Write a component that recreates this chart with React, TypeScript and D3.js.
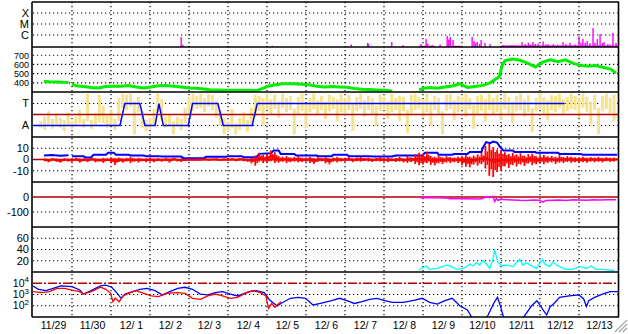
import React, { useEffect, useRef } from "react";
import * as d3 from "d3";

// time is in days counted from 11/29 00:00
const dayLabels = [
  "11/29", "11/30", "12/ 1", "12/ 2", "12/ 3", "12/ 4", "12/ 5", "12/ 6",
  "12/ 7", "12/ 8", "12/ 9", "12/10", "12/11", "12/12", "12/13",
];

// X-ray flux spikes (W/m2)
const xrayBars: [number, number][] = [
  [3.8, 6.6e-7], [3.84, 1.3e-7], [6.14, 1.05e-7], [8.16, 1.4e-7], [8.58, 1.9e-7],
  [8.6, 1.6e-7], [9.2, 2.3e-7], [9.49, 1.2e-7], [9.95, 1.5e-7], [10.08, 4.3e-7],
  [10.12, 1.6e-7], [10.24, 1.2e-7], [10.44, 1.4e-7], [10.62, 8e-7], [10.66, 4e-7],
  [10.7, 6.6e-7], [10.77, 3.5e-7], [11.26, 6.6e-7], [11.31, 2.8e-7], [11.35, 1.8e-7],
  [11.39, 2.3e-7], [11.45, 1.5e-7], [11.49, 3.5e-7], [11.59, 1.9e-7], [11.72, 1.5e-7],
  [12.05, 1.2e-7], [12.28, 1.2e-7], [12.54, 2.3e-7], [12.62, 1.5e-7], [12.7, 1.9e-7],
  [12.76, 1.4e-7], [12.82, 2.3e-7], [12.88, 1.5e-7], [12.95, 1.7e-7], [13.08, 2.6e-7],
  [13.15, 1.4e-7], [13.21, 1.5e-7], [13.34, 1.5e-7], [13.45, 1.3e-7], [13.59, 2.3e-7],
  [13.66, 1.5e-7], [13.77, 1.9e-7], [13.9, 1.4e-7], [14.0, 8e-7], [14.05, 2e-7],
  [14.1, 4.3e-7], [14.16, 2e-7], [14.21, 2.8e-7], [14.28, 1.8e-7], [14.36, 4.3e-6],
  [14.41, 2e-7], [14.47, 4.3e-7], [14.54, 1.2e-6], [14.6, 1.8e-7], [14.64, 2.3e-7],
  [14.74, 1.5e-7], [14.8, 1.3e-7], [14.87, 1.5e-6], [14.95, 1.9e-7],
];
// low background level segments [start, end, flux]
const xrayFloor: [number, number, number][] = [
  [9.9, 10.3, 1.05e-7], [10.6, 11.0, 1.05e-7], [12.0, 15.0, 1.12e-7],
];

// solar wind speed (km/s)
const speedData: [number, number | null][] = [
  [0.28, 415], [0.42, 412], [0.62, 410], [0.76, 406], [0.91, 404], [0.95, null],
  [1.0, 385], [1.1, 367], [1.29, 360], [1.49, 348], [1.68, 344], [1.87, 359],
  [2.07, 363], [2.26, 362], [2.45, 370], [2.64, 355], [2.84, 344], [3.03, 355],
  [3.22, 367], [3.42, 370], [3.61, 363], [3.8, 355], [4.0, 344], [4.19, 340],
  [4.38, 333], [4.58, 322], [4.77, 322], [4.96, 318], [5.15, 318], [5.35, 318],
  [5.54, 318], [5.73, 315], [5.93, 344], [6.02, 363], [6.22, 378], [6.41, 389],
  [6.7, 389], [6.89, 385], [7.08, 378], [7.28, 363], [7.47, 355], [7.66, 359],
  [7.86, 355], [8.05, 352], [8.24, 337], [8.44, 330], [8.63, 326], [8.82, 322],
  [9.02, 318], [9.21, 311], [9.5, null],
  [9.9, 325], [10.03, 340], [10.17, 350], [10.37, 340], [10.56, 355], [10.75, 365],
  [10.95, 390], [11.04, 368], [11.14, 350], [11.33, 360], [11.53, 372], [11.72, 400],
  [11.86, 440], [11.96, 470], [12.03, 590], [12.1, 640], [12.3, 660], [12.49, 645],
  [12.68, 615], [12.88, 572], [13.07, 625], [13.26, 650], [13.46, 630], [13.65, 650],
  [13.84, 615], [14.03, 590], [14.23, 580], [14.42, 588], [14.61, 570], [14.81, 550],
  [14.95, 505],
];

// IMF sector: +1 toward, -1 away
const sectorData: [number, number][] = [
  [0, -1], [2.23, -1], [2.355, 1], [2.74, 1], [2.87, -1], [3.13, -1], [3.23, 1],
  [3.34, -1], [3.98, -1], [4.09, 1], [4.74, 1], [4.88, -1], [5.62, -1], [5.75, 1],
  [13.63, 1],
];
// raw angle scatter, min / max per 0.1 day bin starting at 0.2
const phiStart = 0.2;
const phiLo = [
  -1.2, -1.4, -1.0, -1.3, -0.9, -1.2, -1.5, -1.0, -1.3, -1.0, -0.8, -1.2, -0.6, -1.3,
  -1.0, -0.7, -0.8, -1.2, -1.0, -1.4, -0.6, 0.6, 0.4, 0.7, -1.8, 0.2, -1.2, -1.5,
  -1.3, -0.9, 0.2, -0.5, -1.2, -1.0, -1.8, -1.1, -1.4, -0.8, 0.0, 0.3, 0.5, 0.6,
  0.2, 0.7, 0.4, -0.3, -1.0, -1.8, -1.5, -1.2, -1.8, -1.4, -1.1, -1.6, -0.8, -0.2,
  0.3, -1.0, 0.4, 0.0, 0.5, -0.3, 0.6, 0.2, 0.4, -1.8, 0.0, 0.3, -1.2, 0.2,
  0.5, 0.0, 0.4, -0.4, 0.3, 0.5, -0.6, 0.2, 0.1, 0.4, -1.5, 0.3, 0.5, -0.2,
  0.4, 0.0, -1.0, 0.3, 0.5, -0.4, 0.2, 0.4, -0.6, 0.3, -1.7, 0.1, 0.4, 0.5,
  -0.3, 0.2, -1.0, 0.4, 0.0, -1.8, 0.3, 0.5, -0.5, 0.2, 0.4, -0.2, 0.5, -1.3,
  0.1, 0.3, -0.6, 0.4, 0.0, 0.2, -0.4, 0.5, 0.1, -0.8, 0.3, 0.4, -0.2, 0.2,
  -1.6, 0.3, 0.5, 0.0, -0.5, 0.4, 0.2, 0.6, 0.1, 0.3, 0.5, 0.4, -0.3, 0.6,
  0.2, -0.9, 0.4, -1.8, 0.3, 0.5, 0.1, -0.6,
];
const phiHi = [
  -0.6, -0.2, 0.3, -0.4, 0.1, -0.3, -0.5, 0.2, -0.6, -0.2, 0.4, -0.4, 1.9, -0.5,
  0.1, 1.8, 0.8, -0.1, 0.4, -0.4, 1.5, 1.9, 1.8, 1.9, 1.2, 1.6, 0.3, -0.5,
  -0.3, 0.5, 1.9, 1.4, -0.2, 0.0, -0.6, -0.2, -0.4, 0.6, 1.6, 1.9, 1.7, 1.9,
  1.5, 1.9, 1.8, 1.3, 0.4, -0.3, -0.6, 0.5, -0.8, -0.3, 0.2, -0.5, 0.6, 1.8,
  1.7, 1.5, 1.9, 1.4, 1.8, 1.2, 1.9, 1.5, 1.7, 0.5, 1.6, 1.9, 1.0, 1.5,
  1.9, 1.3, 1.7, 1.2, 1.8, 1.6, 1.4, 1.9, 1.5, 1.8, 1.0, 1.6, 1.9, 1.3,
  1.7, 1.5, 0.8, 1.8, 1.6, 1.2, 1.9, 1.5, 1.7, 1.6, 0.4, 1.8, 1.9, 1.6,
  1.4, 1.9, 1.2, 1.7, 1.5, 0.3, 1.8, 1.9, 1.3, 1.7, 1.6, 1.9, 1.5, 0.9,
  1.7, 1.8, 1.4, 1.9, 1.5, 1.8, 1.3, 1.9, 1.6, 1.2, 1.7, 1.9, 1.4, 1.8,
  0.6, 1.5, 1.9, 1.6, 1.3, 1.8, 1.7, 1.9, 1.4, 1.6, 1.9, 1.7, 1.5, 1.9,
  1.6, 1.2, 1.8, 0.6, 1.7, 1.9, 1.5, 1.8,
];

// IMF Bt (nT)
const btData: [number, number | null][] = [
  [0.28, 3.6], [0.5, 4.0], [0.7, 3.4], [0.91, 3.8], [0.95, null], [1.0, 3.0], [1.29, 3.0],
  [1.35, 1.8], [1.49, 1.8], [1.55, 4.2], [1.87, 4.2], [1.93, 6.0], [2.07, 6.0],
  [2.13, 4.2], [2.45, 4.2], [2.5, 3.6], [2.84, 3.6], [2.9, 3.0], [3.22, 3.0],
  [3.3, 2.7], [3.8, 2.7], [3.86, 1.2], [4.38, 1.2], [4.44, 2.4], [4.96, 2.4],
  [5.0, 3.0], [5.35, 3.0], [5.4, 2.1], [5.73, 2.1], [5.8, 5.0], [6.1, 5.5],
  [6.17, 8.0], [6.3, 8.0], [6.35, 5.0], [6.7, 5.0], [6.75, 3.6], [7.28, 3.6],
  [7.3, 3.0], [7.66, 3.0], [7.7, 4.2], [8.05, 4.2], [8.1, 3.0], [8.63, 3.0],
  [8.7, 2.7], [9.21, 2.7], [9.3, 3.6], [9.98, 3.6], [10.05, 6.0], [10.37, 6.0],
  [10.4, 4.2], [10.75, 4.2], [10.8, 5.0], [11.14, 5.0], [11.2, 6.6], [11.5, 6.6],
  [11.53, 10], [11.62, 15.5], [11.72, 14.5], [11.8, 16], [11.9, 15], [11.98, 11],
  [12.06, 8], [12.3, 8], [12.35, 6.6], [12.88, 6.6], [12.9, 6.0], [13.46, 6.0],
  [13.5, 5.0], [14.03, 5.0], [14.1, 4.2], [14.98, 4.2],
];
// IMF Bz (nT), min / max per 0.1 day bin starting at 0.3
const bzStart = 0.3;
const bzHi = [
  1.0, 0.5, 1.2, 0.8, 0.3, 1.0, 0.6,
  0.5, 1.5, 0.8, 1.2, 0.4, 1.8, 1.0, 0.6, 1.4, 0.9,
  2.0, 1.2, 1.8, 0.8, 1.5, 2.2, 1.0, 1.6, 0.8, 1.2,
  1.5, 0.8, 1.2, 0.6, 1.4, 0.9, 1.6, 0.7, 1.0, 0.5,
  0.6, 0.3, 0.8, 0.4, 0.9, 0.5, 0.7, 1.0, 0.4, 0.8,
  0.8, 1.2, 0.6, 1.5, 1.0, 0.7, 1.4, 3.5, 6.0, 4.0,
  5.0, 8.0, 6.5, 3.0, 2.5, 3.2, 1.8, 2.4, 2.8, 1.5,
  1.8, 2.5, 1.2, 2.0, 1.5, 2.2, 1.0, 1.8, 2.4, 1.2,
  1.5, 2.0, 1.0, 1.8, 2.2, 1.2, 1.6, 0.8, 1.4, 2.0,
  1.2, 1.8, 0.8, 1.5, 2.2, 1.0, 3.0, 2.0, 4.5, 6.0,
  5.0, 7.0, 3.0, 2.5, 3.5, 2.0, 3.0, 2.2, 1.8, 2.5,
  3.0, 4.0, 2.5, 3.5, 4.5, 6.0, 12.0, 14.0, 11.0, 9.0,
  8.0, 6.5, 5.0, 6.0, 4.5, 5.5, 3.5, 4.8, 5.2, 3.0,
  3.5, 4.0, 2.8, 3.2, 2.5, 3.8, 2.2, 3.0, 2.6, 2.0,
  2.0, 2.5, 1.5, 2.2, 1.8, 2.4, 1.4, 2.0, 1.6, 1.8,
];
const bzLo = [
  -1.5, -2.5, -1.0, -2.0, -2.8, -1.2, -1.8,
  -2.0, -1.2, -2.8, -1.5, -2.2, -1.0, -2.5, -1.8, -3.0, -1.4,
  -3.0, -4.8, -2.2, -2.8, -1.8, -3.2, -2.0, -2.6, -1.5, -2.4,
  -1.8, -2.5, -1.2, -2.0, -1.5, -2.8, -1.0, -1.8, -2.2, -1.4,
  -1.0, -0.6, -1.2, -0.8, -0.5, -1.1, -0.7, -0.9, -1.3, -0.6,
  -1.2, -0.8, -1.6, -1.0, -1.5, -2.0, -3.5, -5.5, -2.0, -3.0,
  -2.5, -1.5, -3.0, -2.8, -2.0, -3.2, -2.4, -1.8, -2.6, -2.2,
  -2.0, -3.0, -4.0, -2.2, -1.6, -3.5, -4.2, -2.0, -2.6, -1.8,
  -2.0, -1.4, -2.4, -1.6, -2.0, -1.2, -1.8, -2.2, -1.5, -1.8,
  -2.0, -2.5, -1.5, -2.2, -1.8, -2.6, -3.0, -2.2, -4.0, -5.0,
  -4.5, -3.0, -4.8, -5.2, -3.5, -4.0, -2.8, -3.2, -2.5, -3.0,
  -5.0, -6.5, -7.0, -4.5, -5.5, -4.0, -8.0, -14.5, -15.5, -11.0,
  -10.0, -6.0, -7.5, -5.0, -6.2, -4.5, -5.8, -3.6, -5.0, -4.2,
  -3.5, -4.2, -3.0, -2.6, -4.0, -2.8, -3.2, -2.2, -3.0, -2.5,
  -2.8, -2.2, -3.0, -1.8, -2.5, -2.0, -2.6, -1.5, -2.2, -1.8,
];

// Dst (nT)
const dstData: [number, number][] = [
  [9.92, -5], [10.09, -4], [10.6, -6], [10.68, -12], [11.11, -12], [11.45, -14],
  [11.54, -8], [11.62, 3], [11.71, -5], [11.79, 5], [11.84, -30], [11.88, -10],
  [11.92, -22], [12.01, -15], [12.14, -18], [12.31, -20], [12.48, -22], [12.65, -23],
  [12.82, -20], [12.99, -22], [13.07, -35], [13.16, -24], [13.33, -22], [13.5, -20],
  [13.67, -24], [13.84, -18], [14.01, -20], [14.19, -22], [14.36, -19], [14.53, -20],
  [14.7, -18], [14.95, -19],
];

// proton density / pressure (cyan)
const cyanData: [number, number][] = [
  [9.9, 2.4], [9.96, 6.5], [10.09, 10.7], [10.17, 4.7], [10.34, 6.5], [10.51, 9.5],
  [10.6, 12.4], [10.68, 10.7], [10.77, 8.3], [10.86, 4.7], [11.03, 6.5], [11.11, 9.5],
  [11.2, 14.2], [11.28, 10.7], [11.37, 16.6], [11.45, 12.4], [11.54, 20], [11.62, 15],
  [11.71, 6.5], [11.79, 21.3], [11.84, 40], [11.88, 27], [11.92, 18], [12.01, 10.7],
  [12.14, 12.4], [12.31, 9.5], [12.39, 16.6], [12.48, 22.5], [12.56, 12.4], [12.65, 16.6],
  [12.82, 9.5], [12.91, 6.5], [13.06, 22.5], [13.12, 14.2], [13.25, 9.5], [13.33, 18],
  [13.42, 12.4], [13.5, 9.5], [13.67, 4.7], [13.84, 4.7], [14.01, 9.5], [14.19, 6.5],
  [14.31, 10.7], [14.44, 4.7], [14.61, 4.7], [14.78, 3.5], [14.91, 2.4],
];

// electron flux, two satellites
const electronBlue: [number, number][] = [
  [0.0, 5750], [0.14, 2900], [0.33, 2200], [0.52, 3550], [0.71, 5750], [1.0, 5000],
  [1.2, 2500], [1.29, 1100], [1.49, 2200], [1.73, 5750], [1.87, 6900], [2.02, 4400],
  [2.16, 1260], [2.26, 460], [2.36, 1100], [2.55, 1800], [2.74, 2900], [2.93, 3550],
  [3.13, 2200], [3.32, 910], [3.51, 1800], [3.71, 3550], [3.9, 4400], [4.09, 2900],
  [4.29, 1100], [4.48, 910], [4.67, 1450], [4.86, 1800], [5.06, 1100], [5.25, 740],
  [5.54, 1800], [5.73, 2200], [5.93, 1450], [6.07, 320], [6.26, 95], [6.39, 186],
  [6.6, 460], [6.8, 560], [6.99, 460], [7.18, 117], [7.37, 160], [7.66, 280],
  [7.86, 460], [8.05, 280], [8.24, 160], [8.44, 230], [8.63, 370], [8.82, 460],
  [9.02, 280], [9.21, 200], [9.5, 200], [9.79, 320], [9.98, 460], [10.17, 200],
  [10.37, 140], [10.56, 280], [10.75, 460], [10.95, 95], [11.14, 42], [11.24, 11],
  [11.38, 5], [11.57, 5], [11.67, 15], [11.81, 160], [11.91, 560], [11.99, 83],
  [12.06, 11], [12.2, 5], [12.49, 5], [12.59, 11], [12.78, 95], [12.92, 280],
  [13.07, 48], [13.17, 15], [13.26, 83], [13.36, 160], [13.5, 560], [13.75, 740],
  [14.0, 910], [14.12, 400], [14.19, 85], [14.25, 280], [14.4, 560], [14.6, 1100],
  [14.8, 1800], [15.0, 1800],
];
const electronRed: [number, number][] = [
  [0.0, 1800], [0.23, 1450], [0.42, 1800], [0.62, 3550], [0.81, 3550], [1.0, 2500],
  [1.2, 1800], [1.29, 1100], [1.49, 1800], [1.73, 4400], [1.87, 2900], [1.99, 1260],
  [2.05, 230], [2.11, 460], [2.21, 230], [2.31, 740], [2.45, 1260], [2.64, 2200],
  [2.84, 1260], [3.03, 740], [3.22, 650], [3.42, 1260], [3.71, 1450], [3.9, 1260],
  [4.09, 460], [4.29, 370], [4.48, 740], [4.67, 1100], [4.86, 740], [5.06, 460],
  [5.25, 560], [5.44, 1260], [5.64, 2200], [5.83, 1450], [5.97, 740], [6.04, 59],
  [6.12, 160], [6.2, 72], [6.26, 117], [6.36, 230],
];

const W = 628;
const H = 334;
const edges = [2, 47, 92, 137, 182, 227, 272, 317];
const X0 = 33;
const X1 = 618;
const FONT = "'Liberation Sans', Arial, sans-serif";
const DARKRED = "#b00000";

export default function App() {
  const ref = useRef<SVGSVGElement | null>(null);

  useEffect(() => {
    document.body.style.margin = "0";
    const svg = d3.select(ref.current);
    svg.selectAll("*").remove();

    const x = d3.scaleLinear().domain([0, 15]).range([X0, X1]);

    const yX = d3.scaleLog().domain([1e-7, 1e-3]).range([46, 2]);
    const ySpeed = d3.scaleLinear().domain([300, 790]).range([92, 47]);
    const ySector = d3.scaleLinear().domain([-2.05, 2.05]).range([137, 92]);
    const yB = d3.scaleLinear().domain([-20, 20]).range([182, 137]);
    const yDst = d3.scaleLinear().domain([-200, 100]).range([227, 182]);
    const yCyan = d3.scaleLinear().domain([0, 80]).range([272, 227]);
    const yE = d3.scaleLog().domain([10, 1e5]).range([317, 272]);

    const defs = svg.append("defs");
    for (let i = 0; i < 7; i++) {
      defs
        .append("clipPath")
        .attr("id", `clip${i}`)
        .append("rect")
        .attr("x", X0)
        .attr("y", edges[i])
        .attr("width", X1 - X0)
        .attr("height", edges[i + 1] - edges[i]);
    }

    svg.append("rect").attr("width", W).attr("height", H).attr("fill", "#fff");

    const grid = svg.append("g");
    const dotted = (y: number) =>
      grid
        .append("line")
        .attr("x1", X0)
        .attr("x2", X1)
        .attr("y1", y)
        .attr("y2", y)
        .attr("stroke", "#000")
        .attr("stroke-width", 1.2)
        .attr("stroke-dasharray", "1.2,2.8");

    // vertical day lines
    d3.range(1, 15).forEach((d) => {
      grid
        .append("line")
        .attr("x1", x(d))
        .attr("x2", x(d))
        .attr("y1", 2)
        .attr("y2", 317)
        .attr("stroke", "#000")
        .attr("stroke-width", 1.2)
        .attr("stroke-dasharray", "1.2,2.8");
    });

    [1e-4, 1e-5, 1e-6].forEach((v) => dotted(yX(v)));
    [400, 500, 600, 700].forEach((v) => dotted(ySpeed(v)));
    [1, -1].forEach((v) => dotted(ySector(v)));
    [10, -10].forEach((v) => dotted(yB(v)));
    dotted(yDst(-100));
    [20, 40, 60].forEach((v) => dotted(yCyan(v)));
    [1e3, 1e2].forEach((v) => dotted(yE(v)));

    const refLine = (y: number, dash?: string) => {
      const l = svg
        .append("line")
        .attr("x1", X0)
        .attr("x2", X1)
        .attr("y1", y)
        .attr("y2", y)
        .attr("stroke", DARKRED)
        .attr("stroke-width", 1.5);
      if (dash) l.attr("stroke-dasharray", dash);
    };

    const panel = (i: number) => svg.append("g").attr("clip-path", `url(#clip${i})`);

    // 1: X-ray
    const g1 = panel(0);
    g1.selectAll("rect.bar")
      .data(xrayBars)
      .enter()
      .append("rect")
      .attr("x", (d) => x(d[0]) - 0.7)
      .attr("width", 1.4)
      .attr("y", (d) => yX(d[1]))
      .attr("height", (d) => 47 - yX(d[1]))
      .attr("fill", "#ff00ff");
    g1.selectAll("rect.floor")
      .data(xrayFloor)
      .enter()
      .append("rect")
      .attr("x", (d) => x(d[0]))
      .attr("width", (d) => x(d[1]) - x(d[0]))
      .attr("y", (d) => yX(d[2]))
      .attr("height", (d) => 47 - yX(d[2]))
      .attr("fill", "#ff00ff");

    // 2: speed
    const lineOf = (ys: d3.ScaleContinuousNumeric<number, number>) =>
      d3
        .line<[number, number | null]>()
        .defined((d) => d[1] !== null)
        .x((d) => x(d[0]))
        .y((d) => ys(d[1] as number));

    panel(1)
      .append("path")
      .attr("d", lineOf(ySpeed)(speedData))
      .attr("fill", "none")
      .attr("stroke", "#00ee00")
      .attr("stroke-width", 3);

    // 3: sector
    const g3 = panel(2);
    g3.selectAll("rect.phi")
      .data(phiLo.map((lo, i) => ({ t: phiStart + i * 0.1, lo, hi: phiHi[i] })))
      .enter()
      .append("rect")
      .attr("x", (d) => x(d.t) - 1.5)
      .attr("width", 3)
      .attr("y", (d) => ySector(d.hi))
      .attr("height", (d) => ySector(d.lo) - ySector(d.hi))
      .attr("fill", "#f5e38f");
    refLine(ySector(0));
    panel(2)
      .append("path")
      .attr("d", lineOf(ySector)(sectorData))
      .attr("fill", "none")
      .attr("stroke", "#0000ff")
      .attr("stroke-width", 1.5);

    // 4: Bt / Bz
    refLine(yB(0));
    const g4 = panel(3);
    g4.append("path")
      .attr("d", lineOf(yB)(btData))
      .attr("fill", "none")
      .attr("stroke", "#0000ff")
      .attr("stroke-width", 2);
    const bzBins = bzLo.map((lo, i) => ({ t: bzStart + i * 0.1, lo, hi: bzHi[i] }));
    g4.append("path")
      .attr(
        "d",
        d3
          .line<{ t: number; lo: number; hi: number }>()
          .x((d) => x(d.t))
          .y((d) => yB((d.lo + d.hi) / 2))(bzBins),
      )
      .attr("fill", "none")
      .attr("stroke", "#ff0000")
      .attr("stroke-width", 2);
    g4.selectAll("line.bz")
      .data(bzBins)
      .enter()
      .append("line")
      .attr("x1", (d) => x(d.t))
      .attr("x2", (d) => x(d.t))
      .attr("y1", (d) => yB(d.lo))
      .attr("y2", (d) => yB(d.hi))
      .attr("stroke", "#ff0000")
      .attr("stroke-width", 1.8);
    g4.selectAll("line.bz2")
      .data(bzBins)
      .enter()
      .append("line")
      .attr("x1", (d) => x(d.t + 0.05))
      .attr("x2", (d) => x(d.t + 0.05))
      .attr("y1", (d) => yB(d.lo * 0.6))
      .attr("y2", (d) => yB(d.hi * 0.6))
      .attr("stroke", "#ff0000")
      .attr("stroke-width", 1.6);

    // 5: Dst
    refLine(yDst(0));
    panel(4)
      .append("path")
      .attr("d", lineOf(yDst)(dstData))
      .attr("fill", "none")
      .attr("stroke", "#ff00ff")
      .attr("stroke-width", 1.5);

    // 6: cyan
    panel(5)
      .append("path")
      .attr("d", lineOf(yCyan)(cyanData))
      .attr("fill", "none")
      .attr("stroke", "#00ffff")
      .attr("stroke-width", 1.3);

    // 7: electrons
    refLine(yE(1e4), "9,2,2,2");
    const g7 = panel(6);
    g7.append("path")
      .attr("d", lineOf(yE)(electronBlue))
      .attr("fill", "none")
      .attr("stroke", "#0000ff")
      .attr("stroke-width", 1.3);
    g7.append("path")
      .attr("d", lineOf(yE)(electronRed))
      .attr("fill", "none")
      .attr("stroke", "#ff0000")
      .attr("stroke-width", 1.3);

    // frame
    edges.forEach((y) => {
      svg
        .append("line")
        .attr("x1", 32)
        .attr("x2", 619)
        .attr("y1", y)
        .attr("y2", y)
        .attr("stroke", "#000")
        .attr("stroke-width", 1.6);
    });
    [32, 618.5].forEach((xx) => {
      svg
        .append("line")
        .attr("x1", xx)
        .attr("x2", xx)
        .attr("y1", 2)
        .attr("y2", 317)
        .attr("stroke", "#000")
        .attr("stroke-width", 1.6);
    });

    // y labels
    const label = (y: number, txt: string, size = 11) =>
      svg
        .append("text")
        .attr("x", 29)
        .attr("y", y)
        .attr("dy", "0.36em")
        .attr("text-anchor", "end")
        .style("font-family", FONT)
        .style("font-size", `${size}px`)
        .attr("fill", "#000")
        .text(txt);

    label(yX(1e-4), "X");
    label(yX(1e-5), "M");
    label(yX(1e-6), "C");
    [700, 600, 500, 400].forEach((v) => label(ySpeed(v), String(v), 9));
    label(ySector(1), "T");
    label(ySector(-1), "A");
    [10, 0, -10].forEach((v) => label(yB(v), String(v)));
    [0, -100].forEach((v) => label(yDst(v), String(v)));
    [60, 40, 20].forEach((v) => label(yCyan(v), String(v)));
    [4, 3, 2].forEach((p) => {
      const t = svg
        .append("text")
        .attr("x", 29)
        .attr("y", yE(Math.pow(10, p)) + 3.5)
        .attr("text-anchor", "end")
        .style("font-family", FONT)
        .style("font-size", "10.5px")
        .attr("fill", "#000");
      t.append("tspan").text("10");
      t.append("tspan")
        .attr("dy", -4.5)
        .style("font-size", "8px")
        .text(String(p));
    });

    // x labels
    dayLabels.forEach((lab, i) => {
      svg
        .append("text")
        .attr("x", x(i + 0.5) + 1)
        .attr("y", 329)
        .attr("text-anchor", "middle")
        .attr("xml:space", "preserve")
        .style("font-family", FONT)
        .style("font-size", "10.5px")
        .style("white-space", "pre")
        .attr("fill", "#000")
        .text(lab);
    });

    // window resize grip
    const grip = svg.append("g");
    [0, 4, 8].forEach((o) => {
      grip
        .append("line")
        .attr("x1", 627)
        .attr("y1", 320 + o)
        .attr("x2", 615 + o)
        .attr("y2", 332)
        .attr("stroke", "#a0a0a0")
        .attr("stroke-width", 1.2);
      grip
        .append("line")
        .attr("x1", 627)
        .attr("y1", 321.5 + o)
        .attr("x2", 616.5 + o)
        .attr("y2", 332)
        .attr("stroke", "#ffffff")
        .attr("stroke-width", 0.8);
    });
  }, []);

  return <svg ref={ref} width={W} height={H} style={{ display: "block" }} />;
}
